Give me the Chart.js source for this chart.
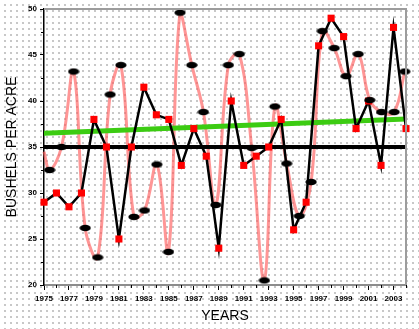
<!DOCTYPE html>
<html>
<head>
<meta charset="utf-8">
<script src="https://cdn.jsdelivr.net/npm/chart.js@4.4.1/dist/chart.umd.min.js"></script>
<style>
  html, body { margin: 0; padding: 0; }
  body {
    width: 419px; height: 329px; overflow: hidden;
    background-color: #fff;
    background-image: radial-gradient(circle, #c6c6c6 0.7px, transparent 1.1px);
    background-size: 6px 6px;
    background-position: 2px 2px;
  }
  #wrap { position: relative; width: 419px; height: 329px; }
</style>
</head>
<body>
<div id="wrap"><canvas id="chart"></canvas></div>
<script>
'use strict';

// ── Data ─────────────────────────────────────────────────────────────────────

const YEARS = [1975, 1976, 1977, 1978, 1979, 1980, 1981, 1982, 1983, 1984,
               1985, 1986, 1987, 1988, 1989, 1990, 1991, 1992, 1993, 1994,
               1995, 1996, 1997, 1998, 1999, 2000, 2001, 2002, 2003, 2004];
const YEAR_LABELS = [1975, 1977, 1979, 1981, 1983, 1985, 1987, 1989, 1991,
                     1993, 1995, 1997, 1999, 2001, 2003];
const Y_TICKS = [20, 25, 30, 35, 40, 45, 50];
const Y_MINOR = [22.5, 27.5, 32.5, 37.5, 42.5, 47.5];

// red squares joined by the black line
const SQUARE_VALUES = [29, 30, 28.5, 30, 38, 35, 25, 35, 41.5, 38.5,
                       38, 33, 37, 34, 24, 40, 33, 34, 35, 38,
                       26, 29, 46, 49, 47, 37, 40, 33, 48, 37];

// black ellipses joined by the pink curve
const ELLIPSE_YEARS = [1975.45, 1976.4, 1977.37, 1978.3, 1979.3, 1980.3, 1981.16, 1982.2,
                       1983.05, 1984.04, 1984.97, 1985.9, 1986.84, 1987.77, 1988.76, 1989.77,
                       1990.65, 1991.64, 1992.65, 1993.5, 1994.44, 1995.45, 1996.4, 1997.3,
                       1998.25, 1999.2, 2000.17, 2001.1, 2002.04, 2003.05, 2003.9];
const ELLIPSE_VALUES = [32.5, 35, 43.2, 26.2, 23, 40.7, 43.9, 27.4,
                        28.1, 33.1, 23.6, 49.6, 43.9, 38.8, 28.7, 43.9,
                        45.1, 34.9, 20.5, 39.4, 33.2, 27.5, 31.2, 47.6,
                        45.75, 42.7, 45.1, 40.1, 38.8, 38.8, 43.2];
const CURVE_START = { year: 1975, value: 34.5 };

const TREND_YEARS = [1975, 2004];
const TREND_VALUES = [36.5, 38.05];
const MEAN_VALUE = 35;

// ── Helpers ──────────────────────────────────────────────────────────────────

const FONT = "'Liberation Sans', Arial, sans-serif";

function pts(xs, ys) {
  return xs.map((x, i) => ({ x, y: ys[i] }));
}

function ellipseMarker() {
  const c = document.createElement('canvas');
  c.width = 12; c.height = 8;
  const g = c.getContext('2d');
  g.fillStyle = '#000';
  g.beginPath();
  g.ellipse(6, 4, 5.6, 3.2, 0, 0, Math.PI * 2);
  g.fill();
  return c;
}

// minor ticks + grey frame on top/right
const framePlugin = {
  id: 'framePlugin',
  afterDraw(chart) {
    const { ctx, chartArea: a, scales: { x, y } } = chart;
    ctx.save();
    ctx.strokeStyle = '#9c9c9c';
    ctx.lineWidth = 2;
    ctx.beginPath();
    ctx.moveTo(a.left, a.top);
    ctx.lineTo(a.right, a.top);
    ctx.lineTo(a.right, a.bottom);
    ctx.stroke();

    ctx.strokeStyle = '#000';
    ctx.lineWidth = 1;
    ctx.beginPath();
    YEARS.filter(yr => !YEAR_LABELS.includes(yr)).forEach(yr => {
      const px = Math.round(x.getPixelForValue(yr)) + 0.5;
      ctx.moveTo(px, a.bottom);
      ctx.lineTo(px, a.bottom + 3);
    });
    Y_MINOR.forEach(v => {
      const py = Math.round(y.getPixelForValue(v)) + 0.5;
      ctx.moveTo(a.left - 3, py);
      ctx.lineTo(a.left, py);
    });
    ctx.stroke();
    ctx.restore();
  }
};

// ── Chart ────────────────────────────────────────────────────────────────────

const curveData = [{ x: CURVE_START.year, y: CURVE_START.value }].concat(pts(ELLIPSE_YEARS, ELLIPSE_VALUES));

new Chart(document.getElementById('chart'), {
  type: 'line',
  data: {
    datasets: [
      {
        data: curveData,
        borderColor: 'rgba(255,85,85,0.62)', borderWidth: 3,
        tension: 0.4, pointRadius: 0, clip: false, order: 5
      },
      {
        data: pts(TREND_YEARS, TREND_VALUES),
        borderColor: '#3ccc12', borderWidth: 5,
        pointRadius: 0, order: 4
      },
      {
        data: pts(TREND_YEARS, TREND_YEARS.map(() => MEAN_VALUE)),
        borderColor: '#000', borderWidth: 4,
        pointRadius: 0, order: 3
      },
      {
        data: pts(YEARS, SQUARE_VALUES),
        borderColor: '#000', borderWidth: 2.5, tension: 0,
        pointStyle: 'rect', pointRadius: 5, pointBorderWidth: 0,
        pointBackgroundColor: '#ff0000', clip: false, order: 2
      },
      {
        data: pts(ELLIPSE_YEARS, ELLIPSE_VALUES),
        showLine: false,
        pointStyle: ellipseMarker(), pointRadius: 5,
        clip: false, order: 1
      }
    ]
  },
  options: {
    responsive: true,
    maintainAspectRatio: false,
    animation: false,
    layout: { padding: { top: 9, right: 13, left: 0, bottom: 0 } },
    plugins: { legend: { display: false }, tooltip: { enabled: false } },
    scales: {
      x: {
        type: 'linear', min: 1975, max: 2004,
        afterBuildTicks: s => { s.ticks = YEAR_LABELS.map(v => ({ value: v })); },
        afterFit: s => { s.height = 44; },
        ticks: {
          autoSkip: false, maxRotation: 0, padding: 4,
          color: '#000', font: { family: FONT, size: 8, weight: 'bold' },
          callback: v => String(v)
        },
        grid: { drawOnChartArea: false, tickLength: 5, color: '#000', lineWidth: 1 },
        border: { color: '#8c8c8c', width: 2 },
        title: {
          display: true, text: 'YEARS', color: '#000',
          font: { family: FONT, size: 14 }, padding: { top: 0, bottom: 4 }
        }
      },
      y: {
        min: 20, max: 50,
        afterBuildTicks: s => { s.ticks = Y_TICKS.map(v => ({ value: v })); },
        afterFit: s => { s.width = 44; },
        ticks: {
          padding: 3, color: '#000',
          font: { family: FONT, size: 8, weight: 'bold' }
        },
        grid: { drawOnChartArea: false, tickLength: 4, color: '#000', lineWidth: 1 },
        border: { color: '#000', width: 1.5 },
        title: {
          display: true, text: 'BUSHELS PER ACRE', color: '#000',
          font: { family: FONT, size: 14 }, padding: { top: 4, bottom: 0 }
        }
      }
    }
  },
  plugins: [framePlugin]
});
</script>
</body>
</html>
